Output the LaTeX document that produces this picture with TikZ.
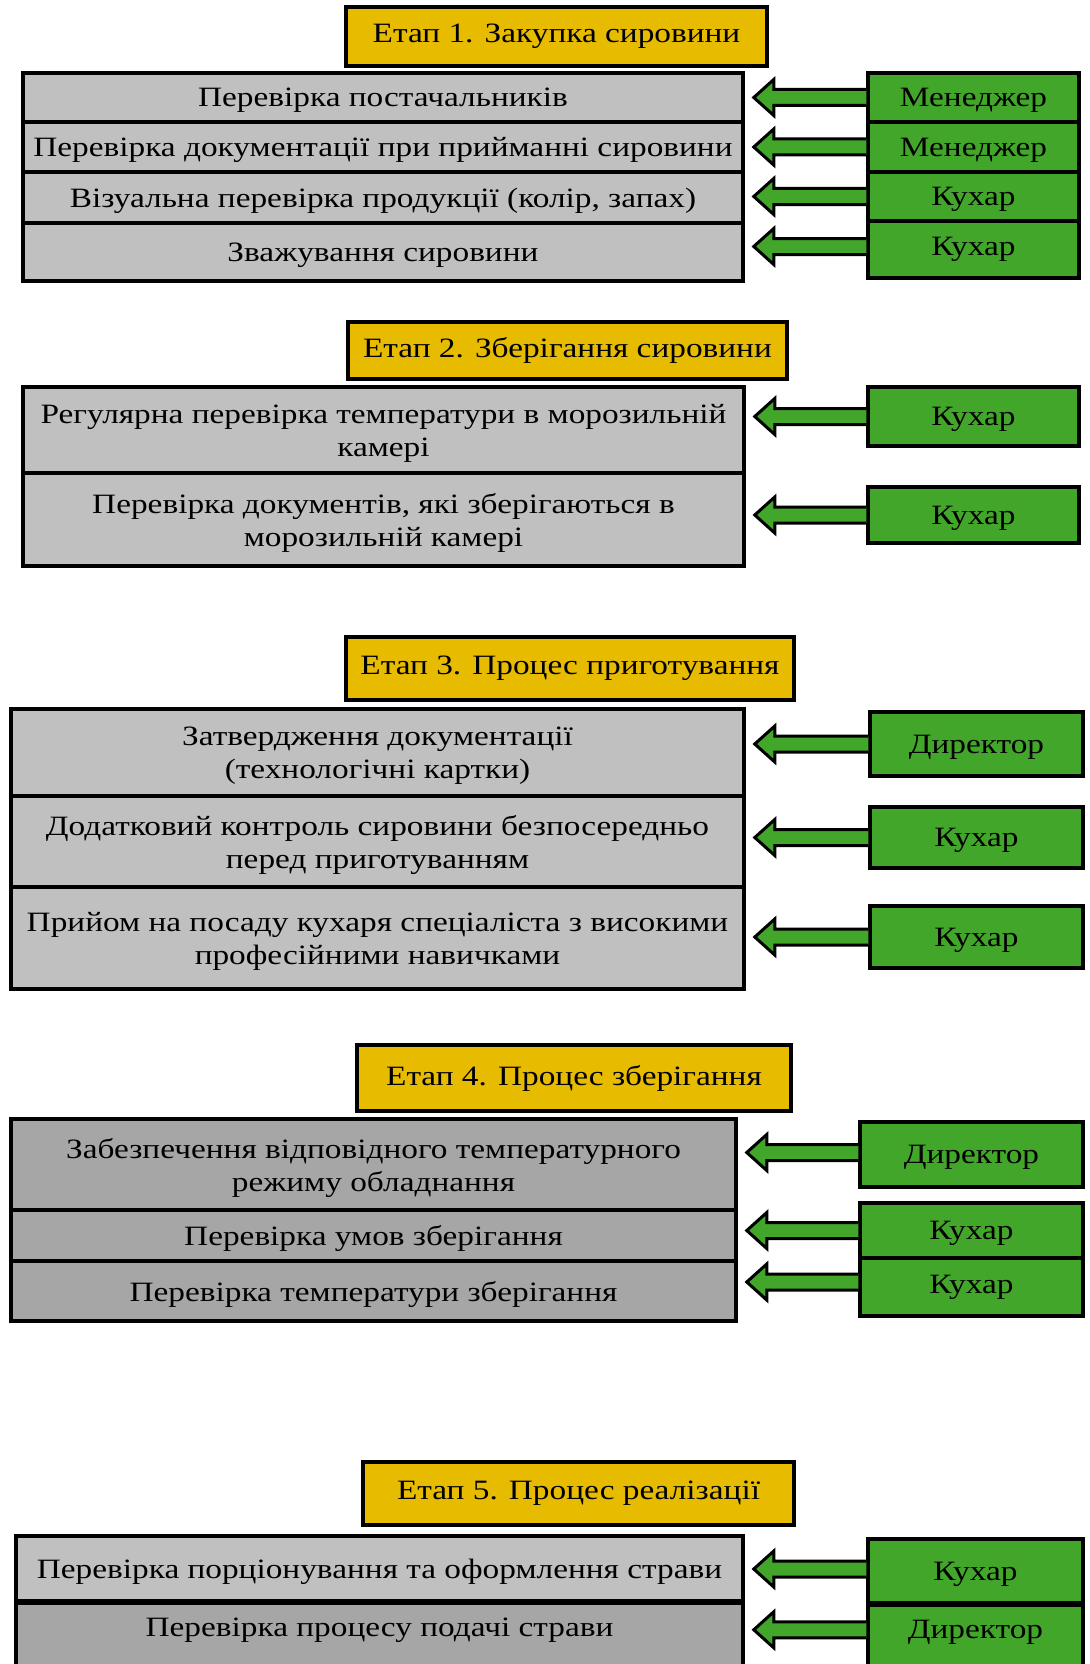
\documentclass[tikz,border=0pt]{standalone}
\usepackage{fontspec}
\setmainfont{Liberation Serif}[FakeStretch=1.19]
\usetikzlibrary{calc}
\definecolor{ttlyellow}{RGB}{230,187,0}
\definecolor{rowlight}{RGB}{192,192,192}
\definecolor{rowdark}{RGB}{166,166,166}
\definecolor{actgreen}{RGB}{66,166,42}
\tikzset{
  base/.style={draw=black, line width=3.5pt, rectangle, inner sep=2pt, align=center,
    font=\fontsize{28}{33}\selectfont, text depth=-1pt},
  ttl/.style={base, fill=ttlyellow, text depth=6pt},
  rowl/.style={base, fill=rowlight},
  rowd/.style={base, fill=rowdark},
  actor/.style={base, fill=actgreen},
  barrowsty/.style={draw=black, line width=3pt, line join=miter},
}
% block arrow from actor box (#2) to row box (#3), optional vertical offset #1 (pt)
\newcommand\barrow[3][0]{%
  \path let \p1=(#2.west), \p2=(#3.east) in
    [fill=actgreen] (\x1,\y1+#1pt+8pt) -- (\x2+29pt,\y1+#1pt+8pt) -- (\x2+29pt,\y1+#1pt+18pt)
      -- (\x2+9pt,\y1+#1pt) -- (\x2+29pt,\y1+#1pt-18pt) -- (\x2+29pt,\y1+#1pt-8pt) -- (\x1,\y1+#1pt-8pt) -- cycle;
  \draw[barrowsty] let \p1=(#2.west), \p2=(#3.east) in
    (\x1,\y1+#1pt+8pt) -- (\x2+29pt,\y1+#1pt+8pt) -- (\x2+29pt,\y1+#1pt+18pt)
      -- (\x2+9pt,\y1+#1pt) -- (\x2+29pt,\y1+#1pt-18pt) -- (\x2+29pt,\y1+#1pt-8pt) -- (\x1,\y1+#1pt-8pt);
}
\begin{document}
\begin{tikzpicture}[x=1pt,y=-1pt]
\useasboundingbox[fill=white] (0,0) rectangle (1089,1664);

% ---------- Stage 1 ----------
\node[ttl, minimum width=421pt, minimum height=59pt] (t1) at (556.5,36.5) {Етап 1. Закупка сировини};
\node[rowl, minimum width=720pt, minimum height=49pt] (r11) at (383,97.5) {Перевірка постачальників};
\node[rowl, minimum width=720pt, minimum height=50pt] (r12) at (383,147) {Перевірка документації при прийманні сировини};
\node[rowl, minimum width=720pt, minimum height=51pt] (r13) at (383,197.5) {Візуальна перевірка продукції (колір, запах)};
\node[rowl, minimum width=720pt, minimum height=58pt] (r14) at (383,252) {Зважування сировини};
\node[actor, minimum width=211pt, minimum height=49pt] (g11) at (973.5,97.5) {Менеджер};
\node[actor, minimum width=211pt, minimum height=50pt] (g12) at (973.5,147) {Менеджер};
\node[actor, minimum width=211pt, minimum height=49pt] (g13) at (973.5,196.5) {Кухар};
\node[actor, minimum width=211pt, minimum height=57pt, text depth=6pt] (g14) at (973.5,249.5) {Кухар};
\barrow{g11}{r11}
\barrow{g12}{r12}
\barrow{g13}{r13}
\barrow[3]{g14}{r14}

% ---------- Stage 2 ----------
\node[ttl, minimum width=439pt, minimum height=57pt] (t2) at (567.5,350.5) {Етап 2. Зберігання сировини};
\node[rowl, minimum width=721pt, minimum height=86pt] (r21) at (383.5,430) {Регулярна перевірка температури в морозильній\\камері};
\node[rowl, minimum width=721pt, minimum height=93pt] (r22) at (383.5,519.5) {Перевірка документів, які зберігаються в\\морозильній камері};
\node[actor, minimum width=211pt, minimum height=59pt] (g21) at (973.5,416.5) {Кухар};
\node[actor, minimum width=211pt, minimum height=56pt] (g22) at (973.5,515) {Кухар};
\barrow{g21}{r21}
\barrow{g22}{r22}

% ---------- Stage 3 ----------
\node[ttl, minimum width=448pt, minimum height=63pt] (t3) at (570,668.5) {Етап 3. Процес приготування};
\node[rowl, minimum width=733pt, minimum height=87pt] (r31) at (377.5,752.5) {Затвердження документації\\(технологічні картки)};
\node[rowl, minimum width=733pt, minimum height=91pt] (r32) at (377.5,841.5) {Додатковий контроль сировини безпосередньо\\перед приготуванням};
\node[rowl, minimum width=733pt, minimum height=102pt] (r33) at (377.5,938) {Прийом на посаду кухаря спеціаліста з високими\\професійними навичками};
\node[actor, minimum width=213pt, minimum height=64pt] (g31) at (976.5,744) {Директор};
\node[actor, minimum width=213pt, minimum height=61pt] (g32) at (976.5,837.5) {Кухар};
\node[actor, minimum width=213pt, minimum height=62pt] (g33) at (976.5,937) {Кухар};
\barrow{g31}{r31}
\barrow{g32}{r32}
\barrow{g33}{r33}

% ---------- Stage 4 ----------
\node[ttl, minimum width=434pt, minimum height=66pt] (t4) at (574,1078) {Етап 4. Процес зберігання};
\node[rowd, minimum width=725pt, minimum height=91pt] (r41) at (373.5,1164.5) {Забезпечення відповідного температурного\\режиму обладнання};
\node[rowd, minimum width=725pt, minimum height=51pt] (r42) at (373.5,1235.5) {Перевірка умов зберігання};
\node[rowd, minimum width=725pt, minimum height=60pt] (r43) at (373.5,1291) {Перевірка температури зберігання};
\node[actor, minimum width=223pt, minimum height=65pt] (g41) at (971.5,1154.5) {Директор};
\node[actor, minimum width=223pt, minimum height=55pt] (g42) at (971.5,1230.5) {Кухар};
\node[actor, minimum width=223pt, minimum height=58pt, text depth=6pt] (g43) at (971.5,1287) {Кухар};
\barrow[2]{g41}{r41}
\barrow{g42}{r42}
\barrow[5]{g43}{r43}

% ---------- Stage 5 ----------
\node[ttl, minimum width=431pt, minimum height=63pt] (t5) at (578.5,1493.5) {Етап 5. Процес реалізації};
\node[rowl, minimum width=727pt, minimum height=65pt] (r51) at (379.5,1568.5) {Перевірка порціонування та оформлення страви};
\node[rowd, minimum width=727pt, minimum height=100pt, anchor=north, text height=19pt, text depth=52pt] (r52) at (379.5,1601) {Перевірка процесу подачі страви};
\node[actor, minimum width=215pt, minimum height=64pt] (g51) at (975.5,1571) {Кухар};
\node[actor, minimum width=215pt, minimum height=100pt, anchor=north, text height=19pt, text depth=52pt] (g52) at (975.5,1603) {Директор};
\barrow[2]{g51}{r51}
\barrow[25]{g52}{r52}
\end{tikzpicture}
\end{document}
